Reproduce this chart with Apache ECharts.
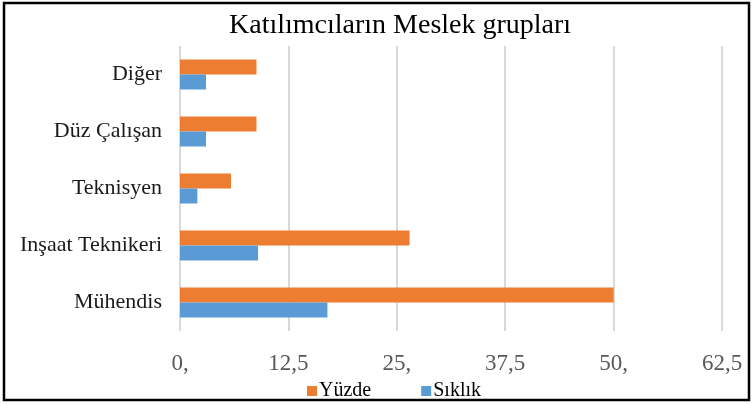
<!DOCTYPE html>
<html>
<head>
<meta charset="utf-8">
<script src="https://cdn.jsdelivr.net/npm/echarts@6/dist/echarts.min.js"></script>
<style>
  html, body { margin: 0; padding: 0; background: #fff; }
  #chart { width: 753px; height: 405px; }
</style>
</head>
<body>
<div id="chart"></div>
<script>
const categories = ['Mühendis', 'Inşaat Teknikeri', 'Teknisyen', 'Düz Çalışan', 'Diğer'];
const yuzde = [50, 26.47, 5.88, 8.82, 8.82];
const siklik = [17, 9, 2, 3, 3];
const xTicks = [0, 12.5, 25, 37.5, 50, 62.5];
const xTickLabels = ['0,', '12,5', '25,', '37,5', '50,', '62,5'];

const serif = '"Liberation Serif", serif';
const chart = echarts.init(document.getElementById('chart'));

const option = {
  backgroundColor: '#fff',
  animation: false,
  title: {
    text: 'Katılımcıların Meslek grupları',
    left: 224,
    top: 7,
    textStyle: { fontFamily: serif, fontSize: 28, fontWeight: 'normal', color: '#000' }
  },
  legend: {
    data: ['Yüzde', 'Sıklık'],
    left: 302,
    top: 376,
    icon: 'rect',
    itemWidth: 10,
    itemHeight: 10,
    itemGap: 50,
    textStyle: { fontFamily: serif, fontSize: 20, color: '#000', padding: [0, 0, 0, -3] }
  },
  grid: { left: 180, right: 31, top: 46, bottom: 74, containLabel: false },
  xAxis: {
    type: 'value',
    min: 0,
    max: 62.5,
    interval: 12.5,
    axisLine: { show: false },
    axisTick: { show: false },
    splitLine: { show: true, lineStyle: { color: '#d9d9d9', width: 2 } },
    axisLabel: {
      margin: 21,
      fontFamily: serif,
      fontSize: 23,
      color: '#595959',
      formatter: v => xTickLabels[xTicks.indexOf(v)]
    }
  },
  yAxis: {
    type: 'category',
    data: categories,
    axisLine: { show: false },
    axisTick: { show: false },
    axisLabel: { margin: 18, fontFamily: serif, fontSize: 22, color: '#1a1a1a' }
  },
  series: [
    {
      name: 'Yüzde',
      type: 'bar',
      data: yuzde,
      barWidth: 15,
      barGap: '0%',
      itemStyle: { color: '#ed7d31' }
    },
    {
      name: 'Sıklık',
      type: 'bar',
      data: siklik,
      barWidth: 15,
      barGap: '0%',
      itemStyle: { color: '#5b9bd5' }
    }
  ],
  graphic: [{
    type: 'rect',
    shape: { x: 4, y: 3, width: 745, height: 397 },
    style: { fill: 'none', stroke: '#000', lineWidth: 2.5 },
    z: 100
  }]
};

chart.setOption(option);
</script>
</body>
</html>
